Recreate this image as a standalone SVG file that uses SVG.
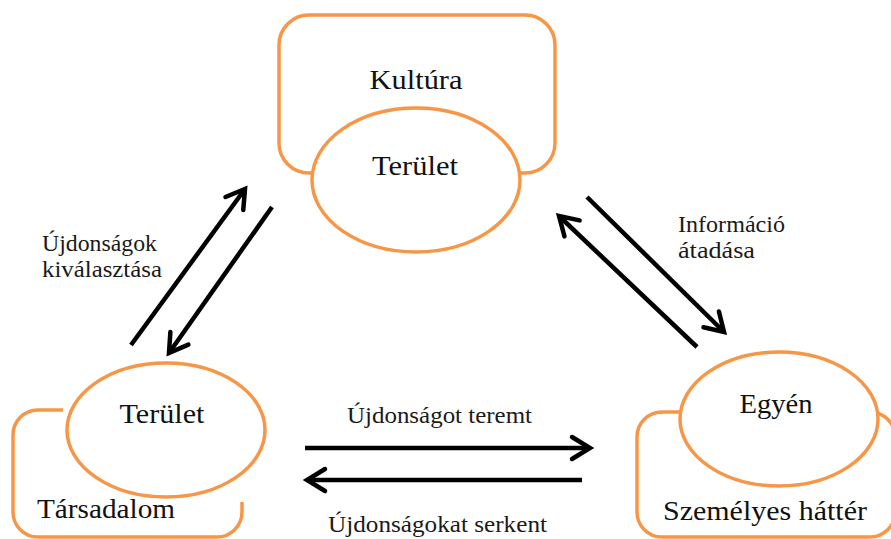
<svg xmlns="http://www.w3.org/2000/svg" width="891" height="539" viewBox="0 0 891 539">
<style>
.box{fill:none;stroke:#F79646;stroke-width:3.5}
.ell{fill:#fff;stroke:#F79646;stroke-width:3.5}
.nt{font-family:"Liberation Serif","DejaVu Serif",serif;font-size:28px;fill:#111}
.lb{font-family:"Liberation Serif","DejaVu Serif",serif;font-size:23px;fill:#1a1a1a}
.ar{stroke:#000;stroke-width:4.5;fill:none;marker-end:url(#ah)}
</style>
<defs>
<marker id="ah" markerUnits="userSpaceOnUse" markerWidth="40" markerHeight="40" refX="0" refY="0" viewBox="-25 -20 40 40" orient="auto">
<path d="M-18,-11 L0,0 L-18,11" fill="none" stroke="#000" stroke-width="4.5" stroke-linejoin="miter" stroke-linecap="round"/>
</marker>
</defs>
<rect width="891" height="539" fill="#fff"/>
<g id="kultura">
<rect class="box" x="279" y="15" width="276" height="158" rx="30"/>
<text class="nt" x="416" y="89" text-anchor="middle" textLength="93" lengthAdjust="spacingAndGlyphs">Kultúra</text>
</g>
<g id="terulet-top">
<ellipse class="ell" cx="416" cy="180" rx="104" ry="72"/>
<text class="nt" x="415" y="175" text-anchor="middle" textLength="86" lengthAdjust="spacingAndGlyphs">Terület</text>
</g>
<g id="tarsadalom">
<path class="box" d="M63,410 H38 A25,25 0 0 0 13,435 V512 A25,25 0 0 0 38,537 H217 A25,25 0 0 0 242,512 V502"/>
<text class="nt" x="37" y="518" textLength="138" lengthAdjust="spacingAndGlyphs">Társadalom</text>
</g>
<g id="terulet-left">
<ellipse class="ell" cx="166" cy="430" rx="99" ry="67"/>
<text class="nt" x="162" y="423" text-anchor="middle" textLength="85" lengthAdjust="spacingAndGlyphs">Terület</text>
</g>
<g id="szemelyes">
<rect class="box" x="637" y="412" width="258" height="125" rx="25"/>
<text class="nt" x="663" y="520" textLength="204" lengthAdjust="spacingAndGlyphs">Személyes háttér</text>
</g>
<g id="egyen">
<ellipse class="ell" cx="779" cy="419" rx="99" ry="67"/>
<text class="nt" x="776" y="413" text-anchor="middle" textLength="73" lengthAdjust="spacingAndGlyphs">Egyén</text>
</g>
<g id="connectors">
<line class="ar" x1="131" y1="345" x2="245" y2="189"/>
<line class="ar" x1="272" y1="207" x2="169" y2="353"/>
<line class="ar" x1="587" y1="197" x2="724" y2="332"/>
<line class="ar" x1="697" y1="347" x2="559" y2="216"/>
<line class="ar" x1="305" y1="448" x2="590" y2="448"/>
<line class="ar" x1="582" y1="480" x2="307" y2="480"/>
</g>
<g id="labels">
<text class="lb" x="42" y="251" textLength="115" lengthAdjust="spacingAndGlyphs">Újdonságok</text>
<text class="lb" x="42" y="277" textLength="120" lengthAdjust="spacingAndGlyphs">kiválasztása</text>
<text class="lb" x="678" y="232" textLength="107" lengthAdjust="spacingAndGlyphs">Információ</text>
<text class="lb" x="678" y="258" textLength="77" lengthAdjust="spacingAndGlyphs">átadása</text>
<text class="lb" x="347" y="423" textLength="185" lengthAdjust="spacingAndGlyphs">Újdonságot teremt</text>
<text class="lb" x="328" y="532" textLength="219" lengthAdjust="spacingAndGlyphs">Újdonságokat serkent</text>
</g>
</svg>
